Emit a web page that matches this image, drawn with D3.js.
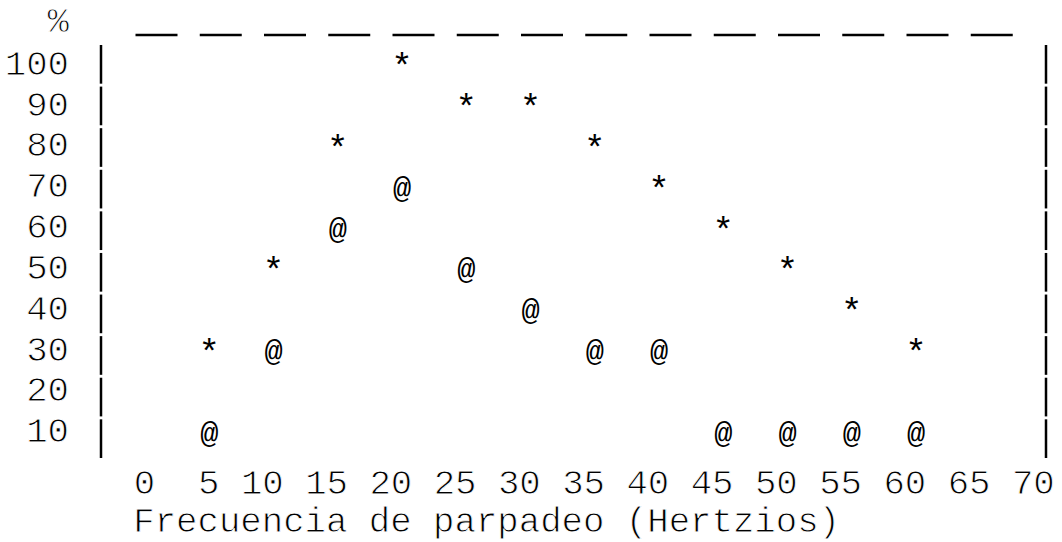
<!DOCTYPE html>
<html>
<head>
<meta charset="utf-8">
<script src="https://cdn.jsdelivr.net/npm/d3@7/dist/d3.min.js"></script>
<style>
  html, body { margin: 0; padding: 0; background: #fff; }
  svg { display: block; }
  text { font-family: "Liberation Mono", "Courier New", monospace; fill: #000; stroke: #fff; stroke-width: 0.9px; paint-order: normal; }
  text.sym { stroke: none; }
</style>
</head>
<body>
<svg id="chart" width="1062" height="542"></svg>
<script>
// ---- data ----
const frequencies = [5, 10, 15, 20, 25, 30, 35, 40, 45, 50, 55, 60];
const starValues  = [30, 50, 80, 100, 90, 90, 80, 70, 60, 50, 40, 30];
const atValues    = [10, 30, 60, 70, 50, 40, 30, 30, 10, 10, 10, 10];
const xTicks = [0, 5, 10, 15, 20, 25, 30, 35, 40, 45, 50, 55, 60, 65, 70];
const yTicks = [10, 20, 30, 40, 50, 60, 70, 80, 90, 100];
const yUnit = "%";
const xTitle = "Frecuencia de parpadeo (Hertzios)";
const starSymbol = "*";
const atSymbol = "@";

// ---- layout ----
const W = 1062, H = 542;
const FS = 35.7;             // monospace font size (char advance ~21.4px)
const CH = FS * 0.6;         // character advance

const svg = d3.select("#chart");

const x = d3.scaleLinear().domain([0, 70]).range([145, 1044.5]);
const y = d3.scaleLinear().domain([10, 100]).range([441.7, 74.3]); // text baselines
const rows = yTicks.slice().reverse();
const band = d3.scaleBand().domain(rows).range([45, 458]).paddingInner(0.07).paddingOuter(0);

// ---- frame: left and right bars built from "|" segments ----
const leftX = 101, rightX = 1046;
[leftX, rightX].forEach(bx => {
  svg.append("g").selectAll("line").data(rows).join("line")
    .attr("x1", bx).attr("x2", bx)
    .attr("y1", d => band(d))
    .attr("y2", d => band(d) + band.bandwidth())
    .attr("stroke", "#000").attr("stroke-width", 2.5);
});

// ---- top dashed line ("__ __ __ ...") ----
const dashStarts = xTicks.slice(0, xTicks.length - 1);
svg.append("g").selectAll("line").data(dashStarts).join("line")
  .attr("x1", d => x(d) - 9.5)
  .attr("x2", d => x(d) + 32.5)
  .attr("y1", 35).attr("y2", 35)
  .attr("stroke", "#000").attr("stroke-width", 2.5);

// ---- y axis ----
const yAxis = d3.axisLeft(y).tickValues(yTicks).tickSize(0).tickPadding(0).tickFormat(d3.format("d"));
const gy = svg.append("g").attr("transform", "translate(69,0)").call(yAxis);
gy.select(".domain").remove();
gy.selectAll("text")
  .attr("dy", 0)
  .attr("font-family", "Liberation Mono, Courier New, monospace")
  .attr("font-size", FS)
  .attr("fill", "#000")
  .attr("text-anchor", "end");

svg.append("text")
  .attr("x", 69).attr("y", 32)
  .attr("text-anchor", "end")
  .attr("font-size", FS)
  .text(yUnit);

// ---- x axis ----
const xAxis = d3.axisBottom(x).tickValues(xTicks).tickSize(0).tickPadding(0).tickFormat(d3.format("d"));
const gx = svg.append("g").attr("transform", "translate(-1,0)").call(xAxis);
gx.select(".domain").remove();
gx.selectAll("text")
  .attr("y", 494)
  .attr("dy", 0)
  .attr("dx", CH / 2)
  .attr("font-family", "Liberation Mono, Courier New, monospace")
  .attr("font-size", FS)
  .attr("fill", "#000")
  .attr("text-anchor", "end");

svg.append("text")
  .attr("x", x(0) - CH / 2 - 1)
  .attr("y", 532)
  .attr("text-anchor", "start")
  .attr("font-size", FS)
  .text(xTitle);

// ---- points ----
const starData = frequencies.map((f, i) => ({ f, v: starValues[i] }));
const atData = frequencies.map((f, i) => ({ f, v: atValues[i] }));

svg.append("g").selectAll("text").data(starData).join("text")
  .attr("class", "sym")
  .attr("x", d => x(d.f))
  .attr("y", d => y(d.v) + 4)
  .attr("text-anchor", "middle")
  .attr("font-size", FS)
  .text(starSymbol);

svg.append("g").selectAll("text").data(atData).join("text")
  .attr("class", "sym")
  .attr("x", d => x(d.f))
  .attr("y", d => y(d.v) + 1)
  .attr("text-anchor", "middle")
  .attr("font-size", FS * 0.85)
  .text(atSymbol);
</script>
</body>
</html>
